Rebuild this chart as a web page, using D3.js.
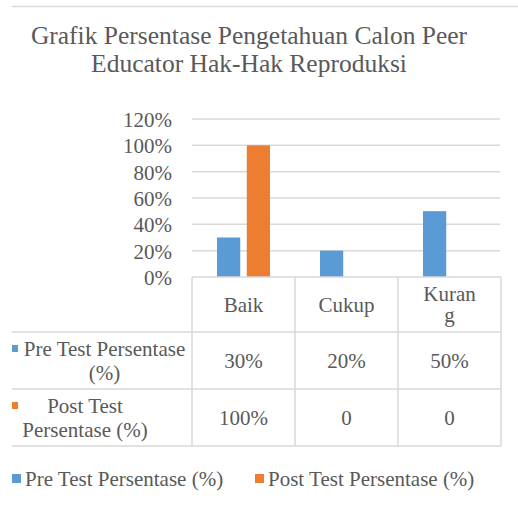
<!DOCTYPE html>
<html>
<head>
<meta charset="utf-8">
<script src="https://cdn.jsdelivr.net/npm/d3@7"></script>
</head>
<body style="margin:0">
<svg id="chart" width="518" height="511" font-family="Liberation Serif"></svg>
<script>
// data
var categories = ["Baik", "Cukup", "Kurang"];
var categoryLines = [["Baik"], ["Cukup"], ["Kuran", "g"]]; // wrapped like the original table header
var seriesNames = ["Pre Test Persentase (%)", "Post Test Persentase (%)"];
var preTest = [0.30, 0.20, 0.50];
var postTest = [1.00, 0, 0];
var yTicks = [0, 0.2, 0.4, 0.6, 0.8, 1.0, 1.2];
var titleLines = ["Grafik Persentase Pengetahuan Calon Peer", "Educator Hak-Hak Reproduksi"];

var colors = ["#5b9bd5", "#ed7d31"];
var W = 518, H = 511;
var grid = "#d9d9d9";
var ink = "#595959";
var FONT = "Liberation Serif";

var svg = d3.select("#chart");

function txt(sel, size) {
  return sel.attr("font-family", FONT).style("font-family", FONT)
    .attr("font-size", size).attr("fill", ink);
}

// top border line
svg.append("line").attr("x1", 12).attr("x2", W).attr("y1", 6.5).attr("y2", 6.5)
  .attr("stroke", grid).attr("stroke-width", 1.5);

// title
txt(svg.selectAll(".title").data(titleLines).enter().append("text").attr("class", "title"), 25.5)
  .attr("x", 249).attr("y", function (d, i) { return 44 + i * 28; })
  .attr("text-anchor", "middle")
  .text(function (d) { return d; });

var x0 = d3.scaleBand().domain(categories).range([192, 501]);
var x1 = d3.scaleBand().domain([0, 1]).range([-26.5, 26.5]).paddingInner(0.22);
var y = d3.scaleLinear().domain([0, 1.2]).range([277, 119]);

// gridlines
svg.append("g").selectAll("line").data(yTicks.slice(1)).enter().append("line")
  .attr("x1", 192).attr("x2", 500)
  .attr("y1", function (d) { return y(d); }).attr("y2", function (d) { return y(d); })
  .attr("stroke", grid).attr("stroke-width", 1.5);

// y axis labels
var yAxis = d3.axisLeft(y).tickValues(yTicks).tickFormat(d3.format(".0%")).tickSize(0).tickPadding(20);
var ya = svg.append("g").attr("transform", "translate(192,0)").call(yAxis)
  .attr("font-family", FONT).attr("font-size", 21);
ya.select(".domain").remove();
txt(ya.selectAll("text"), 21).attr("dy", "0.35em");

// bars
var series = [preTest, postTest];
series.forEach(function (vals, s) {
  svg.append("g").selectAll("rect").data(vals).enter().append("rect")
    .attr("x", function (d, i) { return x0(categories[i]) + x0.bandwidth() / 2 + x1(s); })
    .attr("width", x1.bandwidth())
    .attr("y", function (d) { return y(d); })
    .attr("height", function (d) { return y(0) - y(d); })
    .attr("fill", colors[s]);
});

// data table
var rowTop = [277, 332, 389, 446];
var tg = svg.append("g");
tg.append("line").attr("x1", 192).attr("x2", 501).attr("y1", 277).attr("y2", 277)
  .attr("stroke", grid).attr("stroke-width", 1.5);
[332, 389, 446].forEach(function (yy) {
  tg.append("line").attr("x1", 12).attr("x2", 501).attr("y1", yy).attr("y2", yy)
    .attr("stroke", grid).attr("stroke-width", 1.5);
});
var colEdges = [192].concat(categories.map(function (c) { return x0(c) + x0.bandwidth(); }));
colEdges.forEach(function (xx) {
  tg.append("line").attr("x1", xx).attr("x2", xx).attr("y1", 277).attr("y2", 446)
    .attr("stroke", grid).attr("stroke-width", 1.5);
});

// header cells
categories.forEach(function (c, i) {
  var lines = categoryLines[i];
  var cx = x0(c) + x0.bandwidth() / 2;
  var cy = (rowTop[0] + rowTop[1]) / 2;
  lines.forEach(function (l, j) {
    txt(tg.append("text"), 21).attr("x", cx)
      .attr("y", cy + (j - (lines.length - 1) / 2) * 21)
      .attr("dy", "0.35em").attr("text-anchor", "middle").text(l);
  });
});

// value cells
var fmt = function (v) { return v === 0 ? "0" : d3.format(".0%")(v); };
series.forEach(function (vals, s) {
  var cy = (rowTop[s + 1] + rowTop[s + 2]) / 2;
  vals.forEach(function (v, i) {
    txt(tg.append("text"), 21).attr("x", x0(categories[i]) + x0.bandwidth() / 2).attr("y", cy)
      .attr("dy", "0.35em").attr("text-anchor", "middle").text(fmt(v));
  });
});

// row labels (wrapped as in the original)
var rowLabelLines = [["Pre Test Persentase", "(%)"], ["Post Test", "Persentase (%)"]];
var rowLabelX = [104.5, 85];
rowLabelLines.forEach(function (lines, s) {
  var cy = (rowTop[s + 1] + rowTop[s + 2]) / 2;
  lines.forEach(function (l, j) {
    txt(tg.append("text"), 21).attr("x", rowLabelX[s]).attr("y", cy + (j - 0.5) * 24)
      .attr("dy", "0.35em").attr("text-anchor", "middle").text(l);
  });
  tg.append("rect").attr("x", 12).attr("y", cy - 12 - 3.5).attr("width", 6).attr("height", 7)
    .attr("fill", colors[s]);
});

// legend
var legendX = [12, 255];
var lg = svg.append("g").selectAll("g").data(seriesNames).enter().append("g")
  .attr("transform", function (d, i) { return "translate(" + legendX[i] + ",474)"; });
lg.append("rect").attr("width", 9).attr("height", 9).attr("fill", function (d, i) { return colors[i]; });
txt(lg.append("text"), 21).attr("x", 13).attr("y", 12).text(function (d) { return d; });
</script>
</body>
</html>
